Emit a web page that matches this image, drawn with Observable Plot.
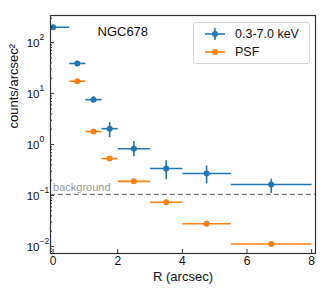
<!DOCTYPE html>
<html><head><meta charset="utf-8">
<script src="https://cdn.jsdelivr.net/npm/d3@7"></script>
<script src="https://cdn.jsdelivr.net/npm/@observablehq/plot@0.6"></script>
<style>
body{margin:0;background:#fff;}
#wrap{position:relative;width:324px;height:291px;font-family:"Liberation Sans",Arial,sans-serif;}
#legend{position:absolute;left:193px;top:22px;width:115px;height:40px;border:1px solid #d6d6d6;border-radius:3px;background:#fff;font-size:12.5px;color:#111;}
.row{position:absolute;left:0;height:16px;display:flex;align-items:center;}
.row svg{margin-left:10px;margin-right:9px;}
</style></head><body><div id="wrap"><div id="legend"></div></div>
<script>
const blueR   = [0, 0.75, 1.25, 1.75, 2.5, 3.5, 4.75, 6.75];
const blueRLo = [-0.5, 0.5, 1.0, 1.5, 2.0, 3.0, 4.0, 5.5];
const blueRHi = [0.5, 1.0, 1.5, 2.0, 3.0, 4.0, 5.5, 8.0];
const blueVal = [200, 39, 7.6, 2.05, 0.83, 0.34, 0.27, 0.165];
const blueLo  = [190, 35, 6.6, 1.36, 0.58, 0.205, 0.17, 0.11];
const blueHi  = [210, 43, 8.7, 2.7, 1.15, 0.48, 0.38, 0.21];
const psfR    = [0.75, 1.25, 1.75, 2.5, 3.5, 4.75, 6.75];
const psfRLo  = [0.5, 1.0, 1.5, 2.0, 3.0, 4.0, 5.5];
const psfRHi  = [1.0, 1.5, 2.0, 3.0, 4.0, 5.5, 8.0];
const psfVal  = [17.5, 1.8, 0.53, 0.19, 0.074, 0.028, 0.0112];
const background = [0.105];
const backgroundLabel = ["background"];
const xTicks = [0, 2, 4, 6, 8];
const yTicks = [0.01, 0.1, 1, 10, 100];
const yTickBase = "10";
const yTickExponents = ["−2", "−1", "0", "1", "2"];
const seriesNames = ["0.3-7.0 keV", "PSF"];
const colors = ["#1f77b4", "#ff7f0e"];
const title = ["NGC678"];
const xLabel = ["R (arcsec)"];
const yLabel = ["counts/arcsec²"];

const blue = blueR.map((r, i) => ({r, lo: blueRLo[i], hi: blueRHi[i], v: blueVal[i], vlo: blueLo[i], vhi: blueHi[i]}));
const psf = psfR.map((r, i) => ({r, lo: psfRLo[i], hi: psfRHi[i], v: psfVal[i]}));

const yDomain = [0.0073, 340];
const minor = [];
for (let e = -3; e <= 3; e++) for (let m = 2; m <= 9; m++) {
  const v = m * Math.pow(10, e);
  if (v > yDomain[0] && v < yDomain[1]) minor.push(v);
}

const chart = Plot.plot({
  width: 324, height: 291,
  marginLeft: 50, marginRight: 9, marginTop: 15, marginBottom: 38,
  style: {fontFamily: '"Liberation Sans", Arial, sans-serif', fontSize: "11.5px", color: "#111", background: "#fff"},
  x: {domain: [-0.08, 8.12]},
  y: {type: "log", domain: yDomain},
  marks: [
    Plot.ruleY(background, {stroke: "#7f7f7f", strokeWidth: 1.3, strokeDasharray: "5,3"}),
    Plot.text(backgroundLabel, {x: 0, y: background, text: d => d, textAnchor: "start", dx: 0, dy: -7, fill: "#9a9a9a", fontSize: 11}),
    // PSF
    Plot.link(psf, {x1: "lo", x2: "hi", y1: "v", y2: "v", stroke: colors[1], strokeWidth: 1.6, clip: true}),
    Plot.dot(psf, {x: "r", y: "v", r: 3, fill: colors[1], clip: true}),
    // Blue
    Plot.link(blue, {x1: "lo", x2: "hi", y1: "v", y2: "v", stroke: colors[0], strokeWidth: 1.6, clip: true}),
    Plot.ruleX(blue, {x: "r", y1: "vlo", y2: "vhi", stroke: colors[0], strokeWidth: 1.6, clip: true}),
    Plot.dot(blue, {x: "r", y: "v", r: 3, fill: colors[0], clip: true}),
    Plot.text(title, {frameAnchor: "top-left", text: d => d, dx: 47, dy: 11, fontSize: 13, fill: "#111", textAnchor: "start"}),
    Plot.axisY({ticks: minor, tickSize: -2, tickFormat: () => "", label: null, stroke: "#333"}),
    Plot.axisY({ticks: yTicks, tickSize: -4, tickFormat: () => "", label: null, stroke: "#333"}),
    Plot.text(yTicks, {frameAnchor: "left", y: d => d, text: () => yTickBase, textAnchor: "end", dx: -11, dy: 1, fontSize: 11.5, fill: "#111"}),
    Plot.text(yTicks, {frameAnchor: "left", y: d => d, text: (d, i) => yTickExponents[i], textAnchor: "start", dx: -11, dy: -5, fontSize: 8.5, fill: "#111"}),
    Plot.axisX({ticks: xTicks, tickSize: -4, tickPadding: 7, label: null, stroke: "#333", fontSize: 12}),
    Plot.frame({stroke: "#333", strokeWidth: 1.2}),
    Plot.text(xLabel, {frameAnchor: "bottom", text: d => d, dy: 27, fontSize: 13, fill: "#111"}),
    Plot.text(yLabel, {frameAnchor: "left", text: d => d, rotate: -90, dx: -37, dy: -6, fontSize: 13, fill: "#111"})
  ]
});
const wrap = document.getElementById("wrap");
wrap.insertBefore(chart, wrap.firstChild);

const legend = document.getElementById("legend");
seriesNames.forEach((name, i) => {
  const row = document.createElement("div");
  row.className = "row";
  row.style.top = (i === 0 ? 3 : 21) + "px";
  const c = colors[i];
  const vbar = i === 0 ? `<line x1="11" x2="11" y1="2" y2="14" stroke="${c}" stroke-width="1.6"/>` : "";
  row.innerHTML = `<svg width="22" height="16"><line x1="1" x2="21" y1="8" y2="8" stroke="${c}" stroke-width="1.6"/>${vbar}<circle cx="11" cy="8" r="3" fill="${c}"/></svg><span>${name}</span>`;
  legend.appendChild(row);
});
</script></body></html>
